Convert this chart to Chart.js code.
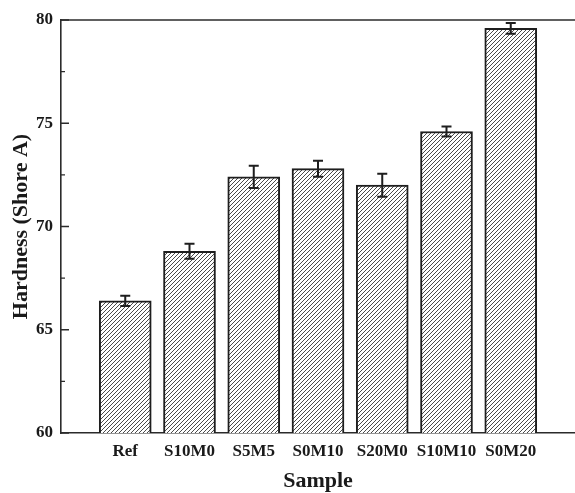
<!DOCTYPE html>
<html><head><meta charset="utf-8">
<script src="https://cdn.jsdelivr.net/npm/chart.js@4.4.1/dist/chart.umd.min.js"></script>
<style>html,body{margin:0;padding:0;background:#fff;overflow:hidden}#wrap{width:575px;height:493px;position:relative}</style>
</head><body><div id="wrap"><canvas id="c" width="575" height="493"></canvas></div>
<script>
const categories = ['Ref', 'S10M0', 'S5M5', 'S0M10', 'S20M0', 'S10M10', 'S0M20'];
const hardness = [66.4, 68.8, 72.4, 72.8, 72.0, 74.6, 79.6];
const hardnessError = [0.25, 0.36, 0.54, 0.39, 0.56, 0.24, 0.26];
const yMajorTicks = [60, 65, 70, 75, 80];
const yMinorTicks = [62.5, 67.5, 72.5, 77.5];

const FONT = "'Liberation Serif', 'Times New Roman', serif";
const INK = '#2b2b2b';

function makeHatch() {
  const s = 4;
  const p = document.createElement('canvas');
  p.width = s; p.height = s;
  const g = p.getContext('2d');
  g.fillStyle = '#ffffff';
  g.fillRect(0, 0, s, s);
  g.strokeStyle = '#4a4a4a';
  g.lineWidth = 1;
  g.beginPath();
  g.moveTo(0, s); g.lineTo(s, 0);
  g.moveTo(-1, 1); g.lineTo(1, -1);
  g.moveTo(s - 1, s + 1); g.lineTo(s + 1, s - 1);
  g.stroke();
  return g.createPattern(p, 'repeat');
}
const hatch = makeHatch();

const labels = [''].concat(categories, ['']);
const values = [null].concat(hardness, [null]);
const errors = [null].concat(hardnessError, [null]);

const framePlugin = {
  id: 'frame',
  afterDatasetsDraw(chart) {
    const {ctx, chartArea: a, scales: {x, y}} = chart;
    ctx.save();
    ctx.strokeStyle = '#1e1e1e';
    ctx.lineWidth = 2;
    values.forEach((v, i) => {
      if (v === null) return;
      const px = x.getPixelForValue(i);
      const top = y.getPixelForValue(v + errors[i]);
      const bot = y.getPixelForValue(v - errors[i]);
      const cap = 5;
      ctx.beginPath();
      ctx.moveTo(px, top); ctx.lineTo(px, bot);
      ctx.moveTo(px - cap, top); ctx.lineTo(px + cap, top);
      ctx.moveTo(px - cap, bot); ctx.lineTo(px + cap, bot);
      ctx.stroke();
    });
    ctx.strokeStyle = INK;
    ctx.lineWidth = 1.6;
    ctx.beginPath();
    ctx.moveTo(a.left, a.top); ctx.lineTo(a.right, a.top);
    ctx.stroke();
    ctx.lineWidth = 1.4;
    ctx.beginPath();
    yMajorTicks.forEach(t => {
      const py = y.getPixelForValue(t);
      ctx.moveTo(a.left, py); ctx.lineTo(a.left + 8, py);
    });
    yMinorTicks.forEach(t => {
      const py = y.getPixelForValue(t);
      ctx.moveTo(a.left, py); ctx.lineTo(a.left + 4, py);
    });
    ctx.stroke();
    ctx.restore();
  }
};

new Chart(document.getElementById('c'), {
  type: 'bar',
  data: {
    labels: labels,
    datasets: [{
      data: values,
      backgroundColor: hatch,
      borderColor: '#1e1e1e',
      borderWidth: 2,
      borderSkipped: 'bottom',
      barThickness: 52
    }]
  },
  options: {
    responsive: false,
    animation: false,
    devicePixelRatio: 1,
    layout: {padding: {top: 20, right: 0, left: 0, bottom: 0}},
    plugins: {legend: {display: false}, tooltip: {enabled: false}},
    scales: {
      x: {
        type: 'category',
        offset: false,
        grid: {display: false, drawTicks: false},
        border: {display: true, color: INK, width: 1.6},
        ticks: {
          color: '#1a1a1a', font: {family: FONT, size: 17, weight: 'bold'},
          padding: 8, maxRotation: 0, autoSkip: false
        },
        title: {
          display: true, text: 'Sample', color: '#1a1a1a',
          font: {family: FONT, size: 22, weight: 'bold', lineHeight: 1},
          padding: {top: 0, bottom: 1}
        },
        afterFit(s) { s.height = 60; s.paddingLeft = 0; s.paddingRight = 0; }
      },
      y: {
        min: 60, max: 80,
        grid: {display: false, drawTicks: false},
        border: {display: true, color: INK, width: 1.6},
        ticks: {
          stepSize: 5, color: '#1a1a1a',
          font: {family: FONT, size: 17, weight: 'bold'},
          padding: 8
        },
        title: {
          display: true, text: 'Hardness (Shore A)', color: '#1a1a1a',
          font: {family: FONT, size: 22, weight: 'bold', lineHeight: 1},
          padding: {top: 10, bottom: 0}
        },
        afterFit(s) { s.width = 61; }
      }
    }
  },
  plugins: [framePlugin]
});
</script>
</body></html>
